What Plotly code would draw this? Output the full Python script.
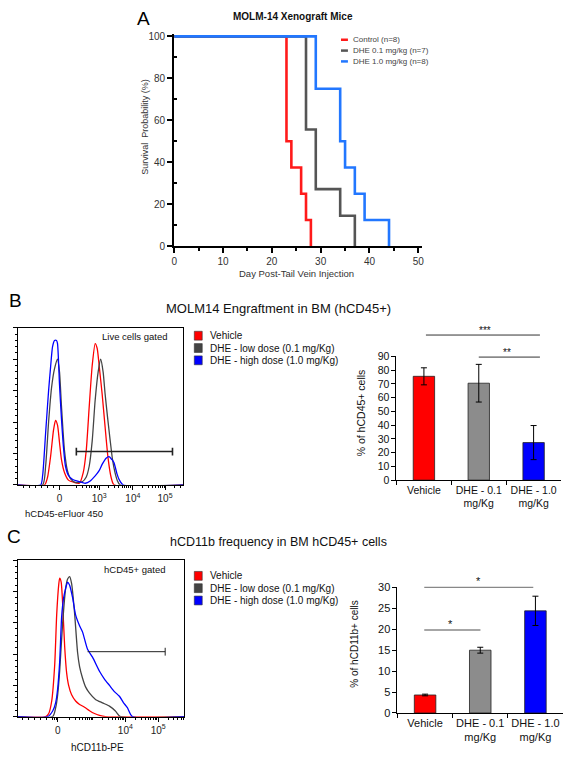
import math
import plotly.graph_objects as go

W, H = 567, 762
FONT = "Arial, Liberation Sans, sans-serif"

# ---------------- Panel A data: Kaplan-Meier survival ----------------
km_names = ["Control (n=8)", "DHE 0.1 mg/kg (n=7)", "DHE 1.0 mg/kg (n=8)"]
km_colors = ["#ff1a1a", "#555555", "#2277ff"]
control_days = [0, 23, 24, 26, 27, 28]
control_surv = [100, 50, 37.5, 25, 12.5, 0]
low_days = [0, 27, 29, 34, 37]
low_surv = [100, 55.6, 27.2, 14.5, 0]
high_days = [0, 29, 34, 35, 37, 39, 44]
high_surv = [100, 75, 50, 37.5, 25, 12.5, 0]

# ---------------- Panel B data ----------------
groups = ["Vehicle", "DHE - low dose (0.1 mg/Kg)", "DHE - high dose (1.0 mg/Kg)"]
hist_colors = ["#ff0000", "#444444", "#0000ff"]
# histogram hCD45 (display channel, % of max)
b_red_x = [0, 27, 30, 33, 36, 38, 40, 42, 44, 47, 51, 57, 62, 66, 69, 72, 75, 78, 80, 82, 85, 88, 91, 94, 97, 167]
b_red_y = [0, 0, 5, 18, 35, 41, 38, 27, 16, 7.8, 3, 1.5, 1, 8, 22, 50, 76, 90, 87, 76, 58, 37, 17, 5, 0, 0]
b_gray_x = [0, 25, 28, 31, 34, 37, 40, 42, 44, 47, 50, 53, 58, 65, 69, 72, 75, 78, 81, 83.5, 86, 88, 90.5, 93, 95.5, 98, 100.5, 103, 167]
b_gray_y = [0, 0, 12, 40, 62, 74, 80, 72, 50, 22, 9, 4, 1.5, 2, 5, 12, 28, 54, 72, 80, 72, 58, 43, 29, 16, 7.8, 2.5, 0, 0]
b_blue_x = [0, 23, 25, 28, 31, 33, 35, 37, 39, 40, 42, 44, 46, 48, 51, 55, 62, 68, 73, 78, 82, 85, 89, 92, 95, 97, 100, 102, 106, 167]
b_blue_y = [0, 0, 6, 33, 60, 75, 88, 92, 92, 90, 64, 42, 24, 12, 6, 3.6, 2, 1, 2.5, 5.7, 9, 13, 17, 18, 16, 14, 7, 3.6, 0, 0]
b_gate = [59, 156, 21.2]  # x0, x1, level
b_ticks = [42, 82, 116, 148.5]
b_ticktext = ["0", "10<sup>3</sup>", "10<sup>4</sup>", "10<sup>5</sup>"]

bar_cats = ["Vehicle", "DHE - 0.1<br>mg/Kg", "DHE - 1.0<br>mg/Kg"]
bar_colors = ["#ff0000", "#8c8c8c", "#0000ff"]
engraft_mean = [75.5, 70.5, 27.3]
engraft_err = [6.2, 13.7, 12.4]

# ---------------- Panel C data ----------------
c_red_x = [0, 28, 31, 34, 37, 39, 41, 42, 43.5, 45, 47, 49, 51, 54, 58, 62, 67, 72, 77, 82, 88, 167]
c_red_y = [0, 0, 2, 10, 33, 65, 84, 88.5, 86, 72, 45, 28, 20, 14, 10, 7.8, 6, 3.8, 2, 0.8, 0, 0]
c_gray_x = [0, 35, 38, 40, 42, 45, 48, 50, 52, 54, 57, 60, 62, 65, 68, 72, 78, 85, 92, 98, 103, 167]
c_gray_y = [0, 0, 5.7, 14, 29, 60, 82, 88, 89.5, 85, 66, 41, 32, 24.5, 19, 15, 11, 8.8, 6.7, 3.6, 0, 0]
c_blue_x = [0, 30, 35, 38, 40, 42, 44, 46, 48, 50, 52, 55, 58, 62, 65, 70, 75, 82, 87, 92, 97, 102, 106, 110, 115, 167]
c_blue_y = [0, 0, 3.6, 9, 18, 35, 64, 76, 82, 86, 84, 76, 65, 58, 54, 43, 38, 29, 24, 20, 16, 13, 9, 5.7, 0, 0]
c_gate = [70, 148, 41.5]
c_ticks = [40, 108, 141]
c_ticktext = ["0", "10<sup>4</sup>", "10<sup>5</sup>"]

cd11b_mean = [4.3, 15.0, 24.4]
cd11b_err = [0.2, 0.7, 3.5]


def px(x):
    return x / W


def py(y):
    return 1 - y / H


fig = go.Figure()

# ---- A traces
for days, surv, col in [(control_days, control_surv, km_colors[0]),
                        (low_days, low_surv, km_colors[1]),
                        (high_days, high_surv, km_colors[2])]:
    fig.add_trace(go.Scatter(x=days, y=surv, mode="lines",
                             line=dict(color=col, width=2.6, shape="hv"),
                             xaxis="x", yaxis="y", showlegend=False, hoverinfo="skip"))

# ---- B histogram
for xs, ys, col in [(b_red_x, b_red_y, hist_colors[0]),
                    (b_gray_x, b_gray_y, hist_colors[1]),
                    (b_blue_x, b_blue_y, hist_colors[2])]:
    fig.add_trace(go.Scatter(x=xs, y=ys, mode="lines",
                             line=dict(color=col, width=1.3, shape="spline", smoothing=0.6),
                             xaxis="x2", yaxis="y2", showlegend=False, hoverinfo="skip"))

# ---- B bars
fig.add_trace(go.Bar(x=bar_cats, y=engraft_mean, width=0.39,
                     marker=dict(color=bar_colors, line=dict(color="#222222", width=0.8)),
                     error_y=dict(type="data", array=engraft_err, color="black", thickness=1, width=3),
                     xaxis="x3", yaxis="y3", showlegend=False))

# ---- C histogram
for xs, ys, col in [(c_red_x, c_red_y, hist_colors[0]),
                    (c_gray_x, c_gray_y, hist_colors[1]),
                    (c_blue_x, c_blue_y, hist_colors[2])]:
    fig.add_trace(go.Scatter(x=xs, y=ys, mode="lines",
                             line=dict(color=col, width=1.3, shape="spline", smoothing=0.6),
                             xaxis="x4", yaxis="y4", showlegend=False, hoverinfo="skip"))

# ---- C bars
fig.add_trace(go.Bar(x=bar_cats, y=cd11b_mean, width=0.39,
                     marker=dict(color=bar_colors, line=dict(color="#222222", width=0.8)),
                     error_y=dict(type="data", array=cd11b_err, color="black", thickness=1, width=3),
                     xaxis="x5", yaxis="y5", showlegend=False))


def log_minor(decades, spacing, lo, hi):
    vals = []
    for d in decades:
        for k in range(2, 10):
            v = d + spacing * math.log10(k)
            if lo < v < hi:
                vals.append(v)
    return vals


b_minor = [6, 12, 18, 24, 30, 36] + log_minor([49, 82, 116, 148.5], 33, 0, 167)
c_minor = [5, 11, 17, 23, 29, 35, 37, 39, 75] + log_minor([42, 75, 108, 141], 33, 0, 167)

base = dict(showgrid=False, zeroline=False, showline=True, linecolor="black",
            tickcolor="black", tickfont=dict(family=FONT, size=10, color="#222"))

hist_x = dict(base, linewidth=1, mirror=True, ticks="outside", ticklen=4, tickwidth=1, tickangle=0)
hist_y = dict(base, linewidth=1, mirror=True, ticks="outside", ticklen=4, tickwidth=1,
              range=[0, 100], dtick=20, showticklabels=False,
              minor=dict(dtick=4, ticks="outside", ticklen=2, tickcolor="black"))

layout = dict(
    width=W, height=H, margin=dict(l=0, r=0, t=0, b=0),
    paper_bgcolor="white", plot_bgcolor="white", showlegend=False,
    font=dict(family=FONT, color="#222"),
    xaxis=dict(base, domain=[px(172.7), px(422.7)], range=[0, 50.75], anchor="y",
               tickvals=[0, 10, 20, 30, 40, 50], ticks="outside", ticklen=5, linewidth=2, tickwidth=1.5,
               tickfont=dict(family=FONT, size=10, color="#333"), tickangle=0,
               minor=dict(tickvals=[5, 15, 25, 35, 45], ticks="outside", ticklen=3, tickcolor="black")),
    yaxis=dict(base, domain=[py(244), py(28.3)], range=[0, 101.2], anchor="x",
               tickvals=[0, 20, 40, 60, 80, 100], ticks="outside", ticklen=5, linewidth=2, tickwidth=1.5,
               tickfont=dict(family=FONT, size=10, color="#333"),
               minor=dict(tickvals=[10, 30, 50, 70, 90], ticks="inside", ticklen=3, tickcolor="black")),
    xaxis2=dict(hist_x, domain=[px(15), px(182)], range=[0, 167], anchor="y2",
                tickvals=b_ticks, ticktext=b_ticktext,
                minor=dict(tickvals=b_minor, ticks="outside", ticklen=2, tickcolor="black")),
    yaxis2=dict(hist_y, domain=[py(486.5), py(327)], anchor="x2"),
    xaxis3=dict(base, domain=[px(397), px(563)], anchor="y3", type="category",
                tickson="boundaries", ticks="outside", ticklen=4, linewidth=1, tickangle=0,
                tickfont=dict(family=FONT, size=10.5, color="#111")),
    yaxis3=dict(base, domain=[py(481.7), py(356)], anchor="x3", range=[0, 90], dtick=10,
                ticks="outside", ticklen=4, linewidth=1,
                tickfont=dict(family=FONT, size=10.5, color="#111")),
    xaxis4=dict(hist_x, domain=[px(15), px(182.7)], range=[0, 167], anchor="y4",
                tickvals=c_ticks, ticktext=c_ticktext,
                minor=dict(tickvals=c_minor, ticks="outside", ticklen=2, tickcolor="black")),
    yaxis4=dict(hist_y, domain=[py(722), py(563)], anchor="x4"),
    xaxis5=dict(base, domain=[px(398), px(565)], anchor="y5", type="category",
                tickson="boundaries", ticks="outside", ticklen=4, linewidth=1, tickangle=0,
                tickfont=dict(family=FONT, size=11, color="#111")),
    yaxis5=dict(base, domain=[py(718.3), py(590.7)], anchor="x5", range=[0, 30], dtick=5,
                ticks="outside", ticklen=4, linewidth=1,
                tickfont=dict(family=FONT, size=11, color="#111")),
)
fig.update_layout(**layout)

ann = []
shapes = []


def text(x, y, s, size, xanchor="center", color="#111", bold=False, angle=0):
    ann.append(dict(x=px(x), y=py(y), xref="paper", yref="paper", text=("<b>%s</b>" % s) if bold else s,
                    showarrow=False, xanchor=xanchor, yanchor="middle", textangle=angle,
                    font=dict(family=FONT, size=size, color=color)))


def pline(x0, y0, x1, y1, color="black", width=1):
    shapes.append(dict(type="line", xref="paper", yref="paper", x0=px(x0), y0=py(y0),
                       x1=px(x1), y1=py(y1), line=dict(color=color, width=width)))


# ---- Panel A texts
text(142, 13, "A", 19, color="#000")
text(293, 11, "MOLM-14 Xenograft Mice", 10, bold=True, color="#111")
text(143, 123, "Survival  Probability (%)", 9, angle=-90, color="#333")
text(296, 272, "Day Post-Tail Vein Injection", 9.5, color="#333")
for i, (nm, col) in enumerate(zip(km_names, km_colors)):
    yy = 34.3 + i * 11
    pline(341, yy, 348, yy, color=col, width=2.5)
    text(351, yy, nm, 8, xanchor="left", color="#444")

# ---- Panel B texts
text(13, 299, "B", 19, color="#000")
text(278, 307, "MOLM14 Engraftment in BM (hCD45+)", 13)
text(133, 336, "Live cells gated", 9.5)
text(62, 516, "hCD45-eFluor 450", 9.5)
text(362, 413, "% of hCD45+ cells", 10.5, angle=-90)

# ---- Panel C texts
text(11, 539, "C", 19, color="#000")
text(278, 545, "hCD11b frequency in BM hCD45+ cells", 12.5)
text(133, 573, "hCD45+ gated", 9.5)
text(95, 753, "hCD11b-PE", 10)
text(355, 648, "% of hCD11b+ cells", 10, angle=-90)

# legends for B and C
for y0 in (335, 579):
    for i, (g, col) in enumerate(zip(groups, hist_colors)):
        yy = y0 + i * 12.5
        shapes.append(dict(type="rect", xref="paper", yref="paper",
                           x0=px(193), x1=px(201), y0=py(yy + 4.5), y1=py(yy - 4.5),
                           fillcolor=col, line=dict(color="#333", width=0.6)))
        text(207, yy, g, 10, xanchor="left")

# gate lines (data coordinates)
for (g, xr, yr, left_tick) in [(b_gate, "x2", "y2", True), (c_gate, "x4", "y4", False)]:
    x0, x1, lvl = g
    w = 1.6 if left_tick else 1
    shapes.append(dict(type="line", xref=xr, yref=yr, x0=x0, x1=x1, y0=lvl, y1=lvl,
                       line=dict(color="#222", width=w)))
    shapes.append(dict(type="line", xref=xr, yref=yr, x0=x1, x1=x1, y0=lvl - 2.5, y1=lvl + 2.5,
                       line=dict(color="#222", width=w)))
    if left_tick:
        shapes.append(dict(type="line", xref=xr, yref=yr, x0=x0, x1=x0, y0=lvl - 2.5, y1=lvl + 2.5,
                           line=dict(color="#222", width=w)))

# significance bars
pline(426.7, 334.3, 541.7, 334.3, color="#333", width=1)
text(486.7, 330, "***", 10)
pline(480, 356.7, 541.7, 356.7, color="#333", width=1)
text(508, 352, "**", 10)

pline(425, 590.7, 535, 590.7, color="#888", width=1.3)
text(480, 584, "*", 11)
pline(425, 634, 481.7, 634, color="#888", width=1.3)
text(451.7, 627.5, "*", 11)

fig.update_layout(annotations=ann, shapes=shapes)
fig.write_html("out.html", config={"displayModeBar": False},
               post_script="document.body.style.margin='0px';")
